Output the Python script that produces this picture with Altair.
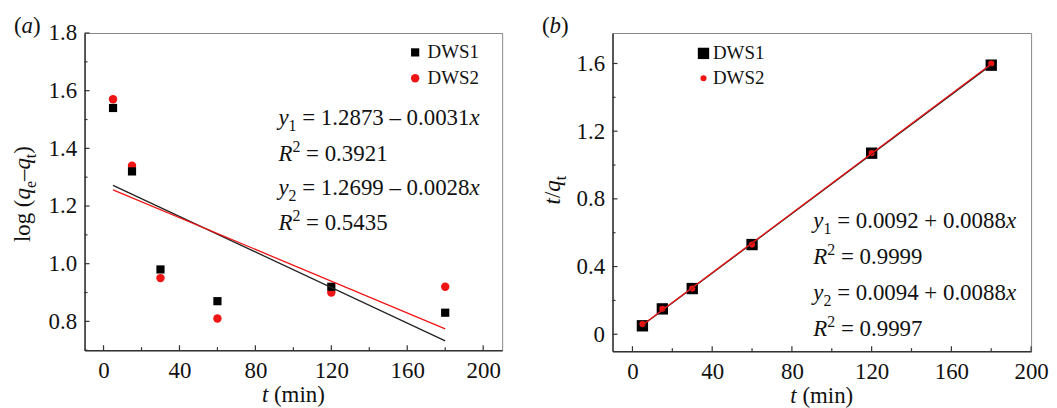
import altair as alt
import pandas as pd

FONT = "Liberation Serif"
TXT = "#111111"
AXC = "#333333"
RED = "#f01414"
BLK = "#000000"
FS = 23

# ---------------- data ----------------
t_min = [5, 15, 30, 60, 120, 180]
series_names = ["DWS1", "DWS2"]
a_dws1 = [1.54, 1.32, 0.98, 0.87, 0.92, 0.83]
a_dws2 = [1.57, 1.34, 0.95, 0.81, 0.90, 0.92]
b_dws1 = [0.05, 0.15, 0.27, 0.53, 1.07, 1.59]
b_dws2 = [0.06, 0.15, 0.27, 0.53, 1.07, 1.60]

x_major = [0, 40, 80, 120, 160, 200]
x_minor = [20, 60, 100, 140, 180]
a_y_major = [0.8, 1.0, 1.2, 1.4, 1.6, 1.8]
a_y_minor = [0.7, 0.9, 1.1, 1.3, 1.5, 1.7]
b_y_major = [0, 0.4, 0.8, 1.2, 1.6]
b_y_minor = [0.2, 0.6, 1.0, 1.4]

a_eq = [("1", "1.2873 – 0.0031", "0.3921"), ("2", "1.2699 – 0.0028", "0.5435")]
b_eq = [("1", "0.0092 + 0.0088", "0.9999"), ("2", "0.0094 + 0.0088", "0.9997")]

# ---------------- text helpers ----------------
REG = {" ": 250, "(": 333, ")": 333, ".": 250, "/": 278, "=": 564, "+": 564,
       "–": 500, "−": 564, "l": 278, "o": 500, "g": 500, "m": 778, "i": 278,
       "n": 500, "e": 444, "t": 278, "a": 444, "b": 500, "R": 667, "x": 500,
       "y": 500, "q": 500}
ITA = {"y": 444, "x": 444, "R": 611, "t": 278, "q": 500, "a": 500, "b": 500}


def tw(s, style, size):
    table = ITA if style == "i" else REG
    return sum(table.get(c, 500) for c in s) / 1000.0 * size


def rich(pieces, x, y, size=FS, angle=0, center=False, color=TXT):
    small = round(size * 0.68)
    widths = []
    for txt, st in pieces:
        fs = small if st in ("sub", "sup") else size
        widths.append(tw(txt, st, fs))
    off = -sum(widths) / 2.0 if center else 0.0
    layers = []
    for (txt, st), w in zip(pieces, widths):
        fs = small if st in ("sub", "sup") else size
        lead = len(txt) - len(txt.lstrip(" "))
        shown = txt.strip(" ")
        dxx = off + tw(" " * lead, st, fs)
        dyy = size * 0.25 if st == "sub" else (-size * 0.40 if st == "sup" else 0)
        if shown:
            layers.append(
                alt.Chart(alt.Data(values=[{"s": shown}]))
                .mark_text(align="left", baseline="alphabetic", font=FONT,
                           fontSize=fs, fontStyle="italic" if st == "i" else "normal",
                           dx=dxx, dy=dyy, angle=angle, color=color)
                .encode(x=alt.value(x), y=alt.value(y), text="s:N")
            )
        off += w
    return layers


def long_df(ya, yb):
    rows = []
    for name, vals in zip(series_names, [ya, yb]):
        for t, v in zip(t_min, vals):
            rows.append({"t": t, "v": v, "series": name})
    return pd.DataFrame(rows)


def panel(df, xdom, ydom, ymaj, ymin, ylabexpr, W, H, sizes, leg_xy, leg_off, leg_row,
          eqs, eq_x, eq_y, tag, ytitle, ytitle_xy, draw_order):
    xs = alt.Scale(domain=xdom, nice=False, zero=False)
    ys = alt.Scale(domain=ydom, nice=False, zero=False)
    xaxis = alt.Axis(values=x_major, format="d", ticks=False, tickSize=0, grid=False,
                     domainColor=AXC, domainWidth=1.5, labelFont=FONT, labelFontSize=FS,
                     labelColor=TXT, labelPadding=9, labelFlush=False, labelOverlap=False,
                     title=None)
    yaxis = alt.Axis(values=ymaj, labelExpr=ylabexpr, ticks=False, tickSize=0, grid=False,
                     domainColor=AXC, domainWidth=1.5, labelFont=FONT, labelFontSize=FS,
                     labelColor=TXT, labelPadding=8, labelFlush=False, labelOverlap=False,
                     title=None)
    bx = alt.X("t:Q", scale=xs, axis=xaxis)
    by = alt.Y("v:Q", scale=ys, axis=yaxis)

    layers = []
    # inward ticks
    layers.append(alt.Chart(pd.DataFrame({"t": x_major})).mark_rule(color=AXC, strokeWidth=1.2)
                  .encode(x=bx, y=alt.value(H), y2=alt.value(H - 5)))
    layers.append(alt.Chart(pd.DataFrame({"t": x_minor})).mark_rule(color=AXC, strokeWidth=1.2)
                  .encode(x=bx, y=alt.value(H), y2=alt.value(H - 3)))
    layers.append(alt.Chart(pd.DataFrame({"v": ymaj})).mark_rule(color=AXC, strokeWidth=1.2)
                  .encode(y=by, x=alt.value(0), x2=alt.value(5)))
    layers.append(alt.Chart(pd.DataFrame({"v": ymin})).mark_rule(color=AXC, strokeWidth=1.2)
                  .encode(y=by, x=alt.value(0), x2=alt.value(3)))

    leg = alt.Legend(orient="none", legendX=leg_xy[0], legendY=leg_xy[1], title=None,
                     labelFont=FONT, labelFontSize=19, labelColor=TXT, labelOffset=leg_off,
                     rowPadding=leg_row, symbolStrokeWidth=0, symbolOpacity=1)
    pdf = pd.concat([df[df.series == s] for s in draw_order])
    points = alt.Chart(pdf).mark_point(filled=True, opacity=1).encode(
        x=bx, y=by,
        color=alt.Color("series:N", scale=alt.Scale(domain=series_names, range=[BLK, RED]), legend=leg),
        shape=alt.Shape("series:N", scale=alt.Scale(domain=series_names, range=["square", "circle"]), legend=leg),
        size=alt.Size("series:N", scale=alt.Scale(domain=series_names, range=sizes), legend=leg),
    )
    layers.append(points)
    for name, col in zip(series_names, ["#222222", RED]):
        layers.append(
            alt.Chart(df).transform_filter(alt.datum.series == name)
            .transform_regression("t", "v", extent=[5, 180])
            .mark_line(color=col, strokeWidth=1.3).encode(x=bx, y=by)
        )

    # equations
    for i, (sub, mid, r2) in enumerate(eqs):
        layers += rich([("y", "i"), (sub, "sub"), (" = " + mid, "n"), ("x", "i")], eq_x, eq_y[2 * i])
        layers += rich([("R", "i"), ("2", "sup"), (" = " + r2, "n")], eq_x, eq_y[2 * i + 1])

    # titles
    layers += rich([("(", "n"), (tag, "i"), (")", "n")], -71, 0)
    layers += rich(ytitle, ytitle_xy[0], ytitle_xy[1], angle=270, center=True)
    layers += rich([("t", "i"), (" (min)", "n")], W / 2.0, H + 52, center=True)
    return alt.layer(*layers).properties(width=W, height=H)


pa = panel(long_df(a_dws1, a_dws2), [-10, 210], [0.7, 1.8], a_y_major, a_y_minor,
           "format(datum.value, '.1f')", 420, 319, [68, 72], (323, 10), 3, 6,
           a_eq, 195, [93, 129, 163, 198], "a",
           [("log (", "n"), ("q", "i"), ("e", "sub"), ("–", "n"), ("q", "i"), ("t", "sub"), (")", "n")],
           (-55, 162), ["DWS2", "DWS1"])

pb = panel(long_df(b_dws1, b_dws2), [-10, 200], [-0.1, 1.78], b_y_major, b_y_minor,
           "datum.value == 0 ? '0' : format(datum.value, '.1f')", 421, 320, [130, 38], (82, 11), 0, 5,
           b_eq, 202, [196, 232, 269, 305], "b",
           [("t", "i"), ("/", "n"), ("q", "i"), ("t", "sub")],
           (-53, 158), ["DWS1", "DWS2"])

chart = (
    alt.hconcat(pa, pb, spacing=111, bounds="flush")
    .resolve_scale(color="independent", shape="independent", size="independent",
                   x="independent", y="independent")
    .configure_view(stroke="#888888", strokeWidth=1)
    .properties(padding={"left": 3, "top": 5, "right": 0, "bottom": 0}, background="white")
)

chart.save("out.html", embed_options={"renderer": "svg", "actions": False})
